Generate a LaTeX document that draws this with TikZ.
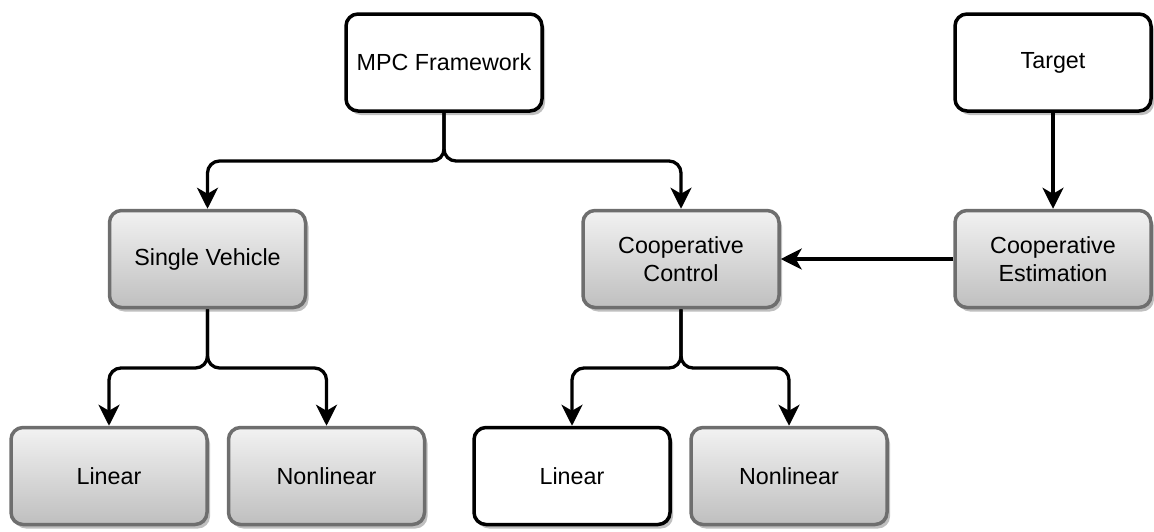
\documentclass[tikz,border=0pt]{standalone}
\usepackage{fontspec}
\setmainfont{Liberation Sans}
\usetikzlibrary{arrows.meta,shadows}
\definecolor{bordergray}{HTML}{6E6E6E}
\definecolor{topgray}{HTML}{F2F2F2}
\definecolor{botgray}{HTML}{BFBFBF}
\tikzset{
  box/.style={rectangle, rounded corners=12pt, minimum width=196pt, minimum height=97pt,
    align=center, font=\fontsize{23.3}{28.5}\selectfont, inner sep=0pt,
    drop shadow={shadow xshift=3pt, shadow yshift=-4pt, opacity=0.25, fill=black}},
  whitebox/.style={box, draw=black, line width=3.5pt, fill=white},
  graybox/.style={box, draw=bordergray, line width=3.5pt, top color=topgray, bottom color=botgray},
  conn/.style={draw=black, line width=3.3pt, rounded corners=12pt,
    -{Stealth[length=21pt, width=21pt, inset=6pt]}},
}
\begin{document}
\begin{tikzpicture}[x=1pt,y=-1pt]
\useasboundingbox (0,0) rectangle (1154,531);
\node[whitebox] (mpc) at (444,62.5) {MPC Framework};
\node[whitebox] (target) at (1053,62.5) {Target};
\node[graybox] (sv) at (207.5,259) {Single Vehicle};
\node[graybox] (cc) at (681,259) {Cooperative\\Control};
\node[graybox] (ce) at (1053,259) {Cooperative\\Estimation};
\node[graybox] (lin1) at (109,476) {Linear};
\node[graybox] (non1) at (326.5,476) {Nonlinear};
\node[whitebox] (lin2) at (572,476) {Linear};
\node[graybox] (non2) at (789,476) {Nonlinear};
\coordinate (j1) at (444,161);
\coordinate (j2) at (207.5,368);
\coordinate (j3) at (681,368);
\draw[conn] (mpc.south) -- (j1) -| (sv.north);
\draw[conn] (mpc.south) -- (j1) -| (cc.north);
\draw[conn] (sv.south) -- (j2) -| (lin1.north);
\draw[conn] (sv.south) -- (j2) -| (non1.north);
\draw[conn] (cc.south) -- (j3) -| (lin2.north);
\draw[conn] (cc.south) -- (j3) -| (non2.north);
\draw[conn] (target.south) -- (ce.north);
\draw[conn] (ce.west) -- (cc.east);
\end{tikzpicture}
\end{document}
